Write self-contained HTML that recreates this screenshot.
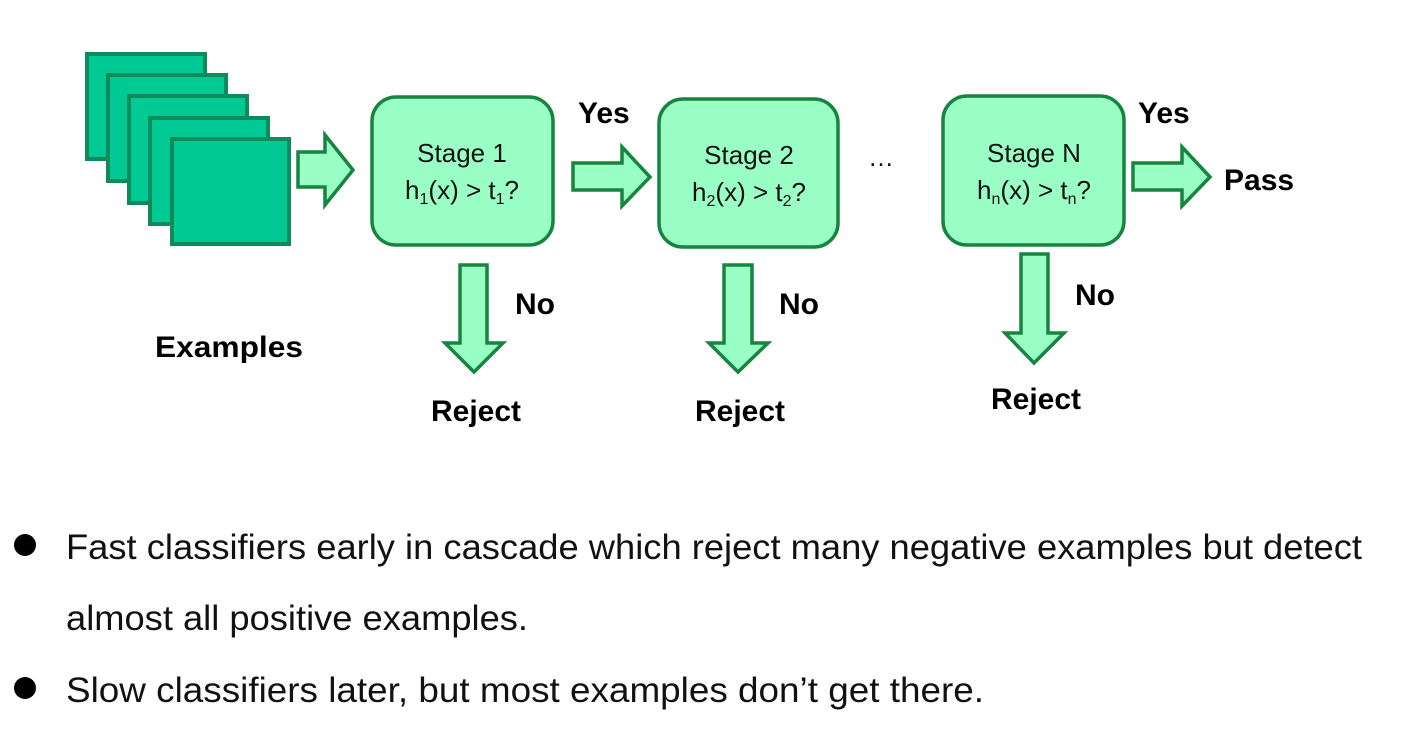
<!DOCTYPE html>
<html><head><meta charset="utf-8"><style>
html,body{margin:0;padding:0;background:#fff;}
svg{display:block}
.b{font-family:"Liberation Sans",Arial,sans-serif;font-weight:bold;fill:#000;}
.s{font-family:"Liberation Sans",Arial,sans-serif;fill:#111;}
</style></head><body>
<svg width="1406" height="735" viewBox="0 0 1406 735" xmlns="http://www.w3.org/2000/svg">
<g fill="#00c994" stroke="#0f8a5a" stroke-width="4">
<rect x="87" y="54" width="118" height="105"/>
<rect x="108" y="75" width="118" height="106"/>
<rect x="129" y="96" width="118" height="107"/>
<rect x="150" y="118" width="118" height="106"/>
<rect x="172" y="139" width="117" height="105"/>
</g>
<g fill="#99ffc4" stroke="#17843f" stroke-width="3.5" stroke-linejoin="miter">
<path d="M298 152 H325 V135 L353 170 L325 205 V187 H298 Z"/>
<path d="M573 163 H622 V147 L650 177 L622 206 V190 H573 Z"/>
<path d="M1133 163 H1182 V147 L1210 177 L1182 206 V190 H1133 Z"/>
<path d="M460 265 H487 V343 H503 L474 372 L445 343 H460 Z"/>
<path d="M724 265 H752 V343 H768 L738 372 L709 343 H724 Z"/>
<path d="M1021 254 H1048 V333 H1064 L1034 363 L1005 333 H1021 Z"/>
<rect x="372" y="97" width="181" height="148" rx="24"/>
<rect x="659" y="99" width="179" height="148" rx="24"/>
<rect x="943" y="96" width="181" height="149" rx="24"/>
</g>
<g class="s" font-size="26" text-anchor="middle" fill="#111">
<text x="462" y="162">Stage 1</text>
<text x="462" y="199">h<tspan font-size="16" dy="5">1</tspan><tspan dy="-5">(x) &gt; t</tspan><tspan font-size="16" dy="5">1</tspan><tspan dy="-5">?</tspan></text>
<text x="749" y="164">Stage 2</text>
<text x="749" y="201">h<tspan font-size="16" dy="5">2</tspan><tspan dy="-5">(x) &gt; t</tspan><tspan font-size="16" dy="5">2</tspan><tspan dy="-5">?</tspan></text>
<text x="1034" y="162">Stage N</text>
<text x="1034" y="199">h<tspan font-size="16" dy="5">n</tspan><tspan dy="-5">(x) &gt; t</tspan><tspan font-size="16" dy="5">n</tspan><tspan dy="-5">?</tspan></text>
<text x="881" y="166">…</text>
</g>
<g class="b" font-size="30">
<text x="578" y="123">Yes</text>
<text x="1138" y="123">Yes</text>
<text x="1224" y="190">Pass</text>
<text x="515" y="314">No</text>
<text x="779" y="314">No</text>
<text x="1075" y="305">No</text>
<text x="431" y="421">Reject</text>
<text x="695" y="421">Reject</text>
<text x="991" y="409">Reject</text>
<text x="155" y="357" textLength="148" lengthAdjust="spacingAndGlyphs">Examples</text>
</g>
<circle cx="25" cy="545" r="11" fill="#000"/>
<circle cx="25" cy="688" r="11" fill="#000"/>
<g class="s" font-size="35">
<text x="66" y="559" textLength="1296" lengthAdjust="spacingAndGlyphs">Fast classifiers early in cascade which reject many negative examples but detect</text>
<text x="66" y="630" textLength="462" lengthAdjust="spacingAndGlyphs">almost all positive examples.</text>
<text x="66" y="702" textLength="918" lengthAdjust="spacingAndGlyphs">Slow classifiers later, but most examples don’t get there.</text>
</g>
</svg>
</body></html>
